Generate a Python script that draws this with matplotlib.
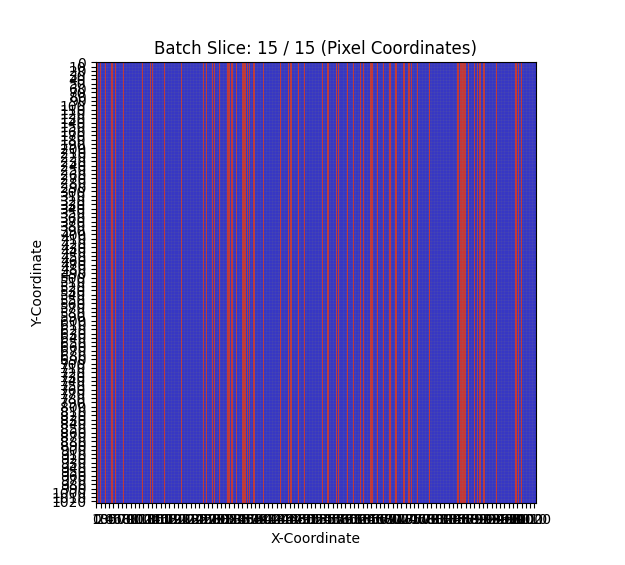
import numpy as np
import matplotlib
matplotlib.use('Agg')
import matplotlib.pyplot as plt

grid_size = 1024
tick_step = 10

# red columns in x coordinates
stripe_start = [1, 9, 21, 36, 44, 63, 107, 126, 130, 158, 197, 249, 256, 270, 275, 286, 297,
                306, 315, 325, 340, 351, 356, 366, 388, 428, 432, 447, 451, 470, 484, 526,
                538, 558, 563, 584, 598, 614, 621, 637, 641, 655, 669, 682, 695, 714, 727,
                734, 747, 775, 841, 847, 865, 879, 886, 892, 900, 930, 975, 982, 989]
stripe_width = [4, 2, 3, 3, 3, 3, 3, 3, 2, 3, 3, 3, 2, 3, 3, 2, 2,
                6, 3, 2, 8, 2, 2, 3, 2, 3, 2, 3, 4, 3, 3, 3,
                4, 3, 2, 2, 3, 3, 2, 3, 3, 2, 2, 4, 5, 4, 3,
                2, 3, 3, 3, 14, 3, 3, 2, 4, 5, 3, 4, 2, 2]

mask = np.zeros((grid_size, grid_size))
for start, width in zip(stripe_start, stripe_width):
    mask[:, start:start + width] = 1

fig = plt.figure(figsize=(6.25, 5.65), dpi=100)
ax = fig.add_axes([96 / 625, 1 - 503 / 565, 440 / 625, 441 / 565])
ax.pcolormesh(mask, cmap='bwr', edgecolors='gray', linewidth=0.08, antialiased=True)
ax.set_xlim(0, grid_size)
ax.set_ylim(grid_size, 0)

ticks = np.arange(0, grid_size, tick_step)
ax.set_xticks(ticks + 0.5)
ax.set_yticks(ticks + 0.5)
ax.set_xticklabels(ticks, rotation=0)
ax.set_yticklabels(ticks)
ax.set_title('Batch Slice: 15 / 15 (Pixel Coordinates)')
ax.set_xlabel('X-Coordinate')
ax.set_ylabel('Y-Coordinate')

plt.savefig('out.png', dpi=100)
